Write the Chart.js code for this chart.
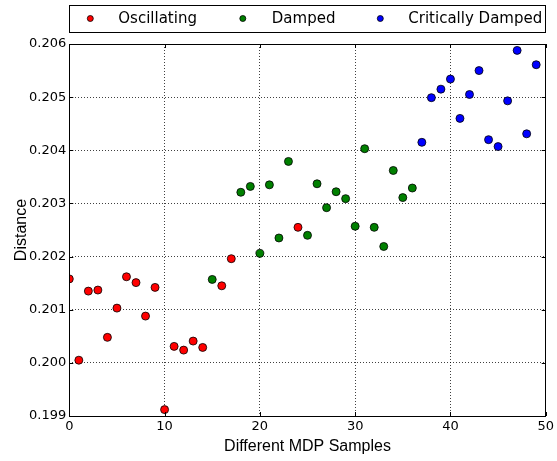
<!DOCTYPE html>
<html>
<head>
<meta charset="utf-8">
<script src="https://cdn.jsdelivr.net/npm/chart.js@4/dist/chart.umd.min.js"></script>
<style>
  html, body { margin: 0; padding: 0; background: #ffffff; }
  #wrap { width: 557px; height: 461px; position: relative; }
</style>
</head>
<body>
<div id="wrap"><canvas id="c" width="557" height="461"></canvas></div>
<script>
// ---- data ----
const oscX = [0, 1, 2, 3, 4, 5, 6, 7, 8, 9, 10, 11, 12, 13, 14, 16, 17, 24];
const oscY = [0.20158, 0.20005, 0.20135, 0.20137, 0.20048, 0.20103, 0.20162, 0.20151, 0.20088, 0.20142,
              0.19912, 0.20031, 0.20024, 0.20041, 0.20029, 0.20145, 0.20196, 0.20255];
const dampX = [15, 18, 19, 20, 21, 22, 23, 25, 26, 27, 28, 29, 30, 31, 32, 33, 34, 35, 36];
const dampY = [0.20157, 0.20321, 0.20332, 0.20206, 0.20335, 0.20235, 0.20379, 0.20240, 0.20337, 0.20292,
               0.20322, 0.20309, 0.20257, 0.20403, 0.20255, 0.20219, 0.20362, 0.20311, 0.20329];
const critX = [37, 38, 39, 40, 41, 42, 43, 44, 45, 46, 47, 48, 49];
const critY = [0.20415, 0.20499, 0.20515, 0.20534, 0.20460, 0.20505, 0.20550, 0.20420, 0.20407, 0.20493,
               0.20588, 0.20431, 0.20561];
const seriesNames = ['Oscillating', 'Damped', 'Critically Damped'];
const xTicks = [0, 10, 20, 30, 40, 50];
const yTicks = [0.199, 0.200, 0.201, 0.202, 0.203, 0.204, 0.205, 0.206];
const xTitle = 'Different MDP Samples';
const yTitle = 'Distance';

const colors = ['#ff0000', '#008000', '#0000ff'];

function pts(xs, ys) { return xs.map((x, i) => ({ x: x, y: ys[i] })); }

const datasets = [pts(oscX, oscY), pts(dampX, dampY), pts(critX, critY)].map((d, i) => ({
  label: seriesNames[i],
  data: d,
  backgroundColor: colors[i],
  borderColor: '#000000',
  borderWidth: 0.8,
  pointRadius: 4,
  pointHoverRadius: 4,
  showLine: false
}));

const tickFont = { family: 'DejaVu Sans', size: 13 };
const titleFont = { family: 'Liberation Sans', size: 16 };

const framePlugin = {
  id: 'frame',
  afterDraw(chart) {
    const ctx = chart.ctx;
    const a = chart.chartArea;
    const xs = chart.scales.x, ys = chart.scales.y;
    ctx.save();
    // inward ticks on all four sides
    ctx.strokeStyle = '#000';
    ctx.lineWidth = 1;
    ctx.beginPath();
    xTicks.forEach(v => {
      const p = Math.round(xs.getPixelForValue(v)) + 0.5;
      ctx.moveTo(p, a.bottom); ctx.lineTo(p, a.bottom - 4);
      ctx.moveTo(p, a.top); ctx.lineTo(p, a.top + 4);
    });
    yTicks.forEach(v => {
      const p = Math.round(ys.getPixelForValue(v)) + 0.5;
      ctx.moveTo(a.left, p); ctx.lineTo(a.left + 4, p);
      ctx.moveTo(a.right, p); ctx.lineTo(a.right - 4, p);
    });
    ctx.stroke();
    // frame
    ctx.lineWidth = 1;
    ctx.strokeRect(Math.round(a.left) + 0.5, Math.round(a.top) + 0.5,
                   Math.round(a.right - a.left), Math.round(a.bottom - a.top));
    // legend box
    const lt = 5.5, lb = 32.5;
    ctx.strokeRect(Math.round(a.left) + 0.5, lt, Math.round(a.right - a.left), lb - lt);
    const cy = 18.5;
    const markerX = [a.left + 21, a.left + 173.5, a.left + 311];
    const textX = [a.left + 49, a.left + 202.5, a.left + 339];
    ctx.font = '15px "DejaVu Sans"';
    ctx.textBaseline = 'middle';
    ctx.textAlign = 'left';
    chart.data.datasets.forEach((ds, i) => {
      ctx.beginPath();
      ctx.arc(markerX[i], cy, 3, 0, Math.PI * 2);
      ctx.fillStyle = ds.backgroundColor;
      ctx.fill();
      ctx.lineWidth = 0.8;
      ctx.strokeStyle = '#000';
      ctx.stroke();
      ctx.fillStyle = '#000';
      ctx.fillText(ds.label, textX[i], cy + 0.5);
    });
    ctx.restore();
  }
};

new Chart(document.getElementById('c'), {
  type: 'scatter',
  data: { datasets: datasets },
  options: {
    responsive: false,
    devicePixelRatio: 1,
    animation: false,
    events: [],
    layout: { padding: { top: 44, right: 9.3, left: 0, bottom: 0 } },
    plugins: { legend: { display: false }, tooltip: { enabled: false } },
    scales: {
      x: {
        type: 'linear',
        min: 0, max: 50,
        afterBuildTicks: s => { s.ticks = xTicks.map(v => ({ value: v })); },
        afterFit: s => { s.height = 45; },
        ticks: { font: tickFont, color: '#000', padding: 3, maxRotation: 0, callback: v => String(v) },
        grid: { drawTicks: false, color: 'rgba(0,0,0,0.75)', lineWidth: 1 },
        border: { display: false, dash: [1, 2] },
        title: { display: true, text: xTitle, font: titleFont, color: '#000', padding: { top: 0, bottom: 4.5 } }
      },
      y: {
        type: 'linear',
        min: 0.199, max: 0.206,
        afterBuildTicks: s => { s.ticks = yTicks.map(v => ({ value: v })); },
        afterFit: s => { s.width = 69.3; },
        ticks: { font: tickFont, color: '#000', padding: 3, callback: v => v.toFixed(3) },
        grid: { drawTicks: false, color: 'rgba(0,0,0,0.75)', lineWidth: 1 },
        border: { display: false, dash: [1, 2] },
        title: { display: true, text: yTitle, font: titleFont, color: '#000', padding: { top: 12.4, bottom: 0 } }
      }
    }
  },
  plugins: [framePlugin]
});
</script>
</body>
</html>
